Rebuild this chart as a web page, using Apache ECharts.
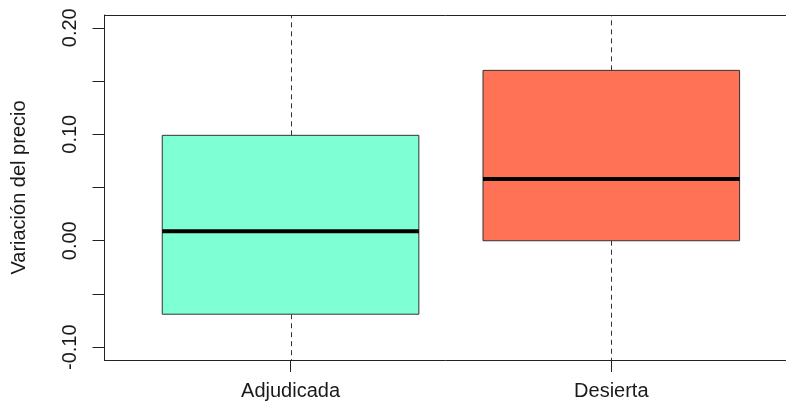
<!DOCTYPE html>
<html>
<head>
<meta charset="utf-8">
<script src="https://cdn.jsdelivr.net/npm/echarts@6/dist/echarts.min.js"></script>
<style>
html,body{margin:0;padding:0;background:#fff;}
#chart{width:786px;height:409px;}
</style>
</head>
<body>
<div id="chart"></div>
<script>
// ---- data ----
const categories = ['Adjudicada', 'Desierta'];
const lowerWhisker = [-0.15, -0.15];   // extends beyond the visible range
const q1 = [-0.069, 0.000];
const median = [0.009, 0.058];
const q3 = [0.099, 0.160];
const upperWhisker = [0.25, 0.25];     // extends beyond the visible range
const yTicks = [-0.10, -0.05, 0.00, 0.05, 0.10, 0.15, 0.20];
const yLabels = [-0.10, 0.00, 0.10, 0.20];
const yAxisTitle = 'Variación del precio';

// ---- styles ----
const boxColors = ['#7FFFD4', '#FF7256'];
const FONT = "'Liberation Sans', Arial, sans-serif";
const TEXT = '#1a1a1a';
const FRAME = '#222';

const data = categories.map((c, i) => [i + 1, lowerWhisker[i], q1[i], median[i], q3[i], upperWhisker[i]]);

const chart = echarts.init(document.getElementById('chart'), null, {renderer: 'canvas'});

function renderItem(params, api) {
  const cs = params.coordSys;
  const x = api.value(0);
  const idx = params.dataIndex;
  const half = 0.4;
  const clampY = y => Math.max(cs.y, Math.min(cs.y + cs.height, y));
  const pLow = api.coord([x, api.value(1)]);
  const pQ1 = api.coord([x, api.value(2)]);
  const pMed = api.coord([x, api.value(3)]);
  const pQ3 = api.coord([x, api.value(4)]);
  const pHigh = api.coord([x, api.value(5)]);
  const left = api.coord([x - half, 0])[0];
  const right = api.coord([x + half, 0])[0];
  const cx = Math.round(pMed[0]) + 0.5;
  const dashStyle = {stroke: '#333', lineWidth: 1, lineDash: [5, 4]};
  return {
    type: 'group',
    children: [
      {type: 'line', shape: {x1: cx, y1: clampY(pQ3[1]), x2: cx, y2: clampY(pHigh[1])}, style: dashStyle},
      {type: 'line', shape: {x1: cx, y1: clampY(pQ1[1]), x2: cx, y2: clampY(pLow[1])}, style: dashStyle},
      {type: 'rect', shape: {x: left, y: pQ3[1], width: right - left, height: pQ1[1] - pQ3[1]},
        style: {fill: boxColors[idx], stroke: '#333', lineWidth: 1}},
      {type: 'line', shape: {x1: left, y1: pMed[1], x2: right, y2: pMed[1]},
        style: {stroke: '#000', lineWidth: 4}}
    ]
  };
}

const option = {
  animation: false,
  backgroundColor: '#fff',
  grid: {left: 104.5, right: 0, top: 15, bottom: 49, show: false},
  xAxis: [{
    type: 'value', min: 0.42, max: 2.5446, position: 'bottom',
    axisLine: {show: true, onZero: false, lineStyle: {color: FRAME, width: 1}},
    splitLine: {show: false},
    axisTick: {show: true, length: 12, lineStyle: {color: FRAME}, customValues: [1, 2]},
    axisLabel: {
      customValues: [1, 2], margin: 21,
      formatter: v => categories[Math.round(v) - 1] || '',
      fontFamily: FONT, fontSize: 20, color: TEXT
    }
  }, {
    type: 'value', min: 0.42, max: 2.5446, position: 'top',
    axisLine: {show: true, onZero: false, lineStyle: {color: FRAME, width: 1}},
    splitLine: {show: false}, axisTick: {show: false}, axisLabel: {show: false}
  }],
  yAxis: {
    type: 'value', min: -0.112, max: 0.212,
    axisLine: {show: true, onZero: false, lineStyle: {color: FRAME, width: 1}},
    splitLine: {show: false},
    axisTick: {show: true, length: 12, lineStyle: {color: FRAME}, customValues: yTicks},
    axisLabel: {
      customValues: yLabels, rotate: 90, margin: 24,
      formatter: v => v.toFixed(2),
      fontFamily: FONT, fontSize: 20, color: TEXT
    },
    name: yAxisTitle, nameLocation: 'middle', nameRotate: 90, nameGap: 75,
    nameTextStyle: {fontFamily: FONT, fontSize: 20, color: TEXT}
  },
  series: [{
    type: 'custom',
    clip: true,
    renderItem: renderItem,
    encode: {x: 0, y: [1, 2, 3, 4, 5]},
    data: data
  }]
};
chart.setOption(option);
</script>
</body>
</html>
